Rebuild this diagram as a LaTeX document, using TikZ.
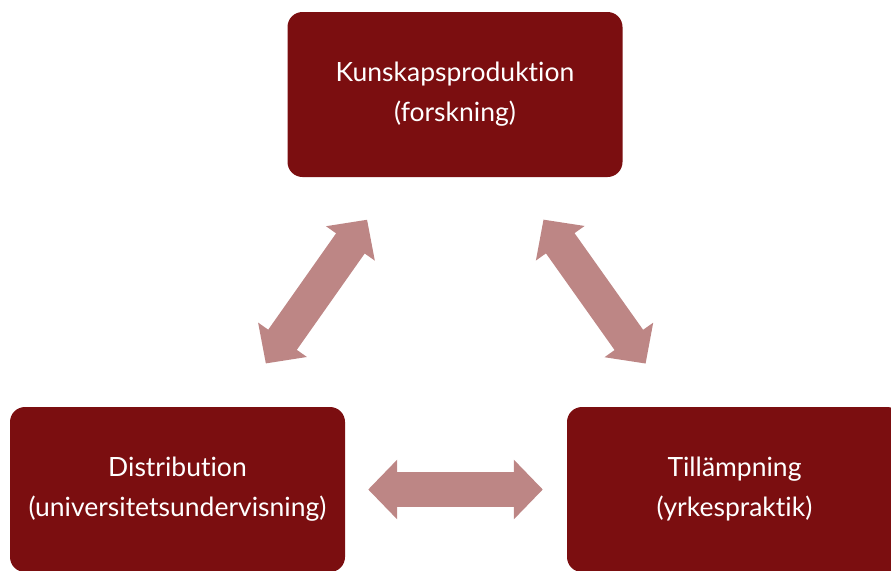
\documentclass[tikz,border=0pt]{standalone}
\usepackage{fontspec}
\setmainfont{Lato}[Ligatures={NoCommon}]
\usepackage{tikz}
\usetikzlibrary{arrows.meta, calc, positioning}
\definecolor{boxred}{RGB}{123,14,16}
\definecolor{arrowred}{RGB}{189,134,133}
\tikzstyle{block} = [rectangle, rounded corners=15pt, fill=boxred, text=white, minimum width=335pt, minimum height=165pt, align=center, font=\fontsize{26.5}{40}\selectfont]
\tikzstyle{arrow} = [draw=arrowred, line width=35pt, {Triangle[width=58pt,length=29pt]}-{Triangle[width=58pt,length=29pt]}]

\begin{document}
\begin{tikzpicture}[x=1pt, y=-1pt]
		\useasboundingbox (0,0) rectangle (891,570);
		\node (Kunskap) [block] at (455,94.5) {Kunskapsproduktion\\(forskning)};
		\node (Distribution) [block] at (177.5,489.5) {Distribution\\(universitetsundervisning)};
		\node (Tillampning) [block] at (734.5,489.5) {Tillämpning\\(yrkespraktik)};
		
		\draw [arrow, shorten <=52pt, shorten >=53pt] (Kunskap) -- (Distribution);
		\draw [arrow, shorten <=52pt, shorten >=53pt] (Kunskap) -- (Tillampning);
		\draw [arrow, shorten <=23pt, shorten >=24pt] (Distribution) -- (Tillampning);
\end{tikzpicture}
\end{document}
